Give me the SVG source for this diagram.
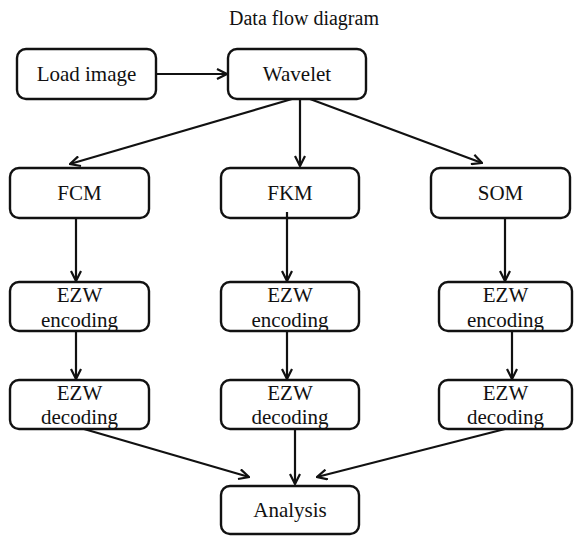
<svg xmlns="http://www.w3.org/2000/svg" width="575" height="536" viewBox="0 0 575 536" font-family="'Liberation Serif', 'Times New Roman', serif">
  <style>
    text { font-family: "Liberation Serif", "Times New Roman", serif; fill: #111111; text-anchor: middle; }
    .box { fill: #ffffff; stroke: #111111; stroke-width: 2.4; }
    .lbl { font-size: 21px; }
    .title { font-size: 20px; }
    .edge { fill: none; stroke: #111111; stroke-width: 2.2; marker-end: url(#arrow); }
  </style>
  <defs>
    <marker id="arrow" viewBox="0 0 12 12" refX="11" refY="6" markerWidth="12" markerHeight="12" markerUnits="userSpaceOnUse" orient="auto">
      <path d="M1,1 L11,6 L1,11" fill="none" stroke="#111111" stroke-width="2.2" stroke-linejoin="miter"/>
    </marker>
  </defs>

  <rect width="575" height="536" fill="#ffffff"/>

  <text class="title" x="304" y="25">Data flow diagram</text>

  <g id="load-image">
    <rect class="box" x="17" y="49" width="139" height="50" rx="9"/>
    <text class="lbl" x="86.5" y="81">Load image</text>
  </g>
  <g id="wavelet">
    <rect class="box" x="228" y="49" width="138" height="50" rx="9"/>
    <text class="lbl" x="297" y="81">Wavelet</text>
  </g>

  <g id="fcm">
    <rect class="box" x="10" y="168" width="139" height="50" rx="9"/>
    <text class="lbl" x="79.5" y="200">FCM</text>
  </g>
  <g id="fkm">
    <rect class="box" x="221" y="168" width="138" height="50" rx="9"/>
    <text class="lbl" x="290" y="200">FKM</text>
  </g>
  <g id="som">
    <rect class="box" x="431" y="168" width="139" height="50" rx="9"/>
    <text class="lbl" x="500.5" y="200">SOM</text>
  </g>

  <g id="fcm-encoding">
    <rect class="box" x="10" y="282" width="139" height="49" rx="9"/>
    <text class="lbl" x="79.5" y="302">EZW</text>
    <text class="lbl" x="79.5" y="327">encoding</text>
  </g>
  <g id="fkm-encoding">
    <rect class="box" x="221" y="282" width="138" height="49" rx="9"/>
    <text class="lbl" x="290" y="302">EZW</text>
    <text class="lbl" x="290" y="327">encoding</text>
  </g>
  <g id="som-encoding">
    <rect class="box" x="439" y="282" width="133" height="49" rx="9"/>
    <text class="lbl" x="505.5" y="302">EZW</text>
    <text class="lbl" x="505.5" y="327">encoding</text>
  </g>

  <g id="fcm-decoding">
    <rect class="box" x="10" y="380" width="139" height="49" rx="9"/>
    <text class="lbl" x="79.5" y="400">EZW</text>
    <text class="lbl" x="79.5" y="424">decoding</text>
  </g>
  <g id="fkm-decoding">
    <rect class="box" x="221" y="380" width="138" height="49" rx="9"/>
    <text class="lbl" x="290" y="400">EZW</text>
    <text class="lbl" x="290" y="424">decoding</text>
  </g>
  <g id="som-decoding">
    <rect class="box" x="439" y="380" width="133" height="49" rx="9"/>
    <text class="lbl" x="505.5" y="400">EZW</text>
    <text class="lbl" x="505.5" y="424">decoding</text>
  </g>

  <g id="analysis">
    <rect class="box" x="221" y="486" width="138" height="48" rx="9"/>
    <text class="lbl" x="290" y="517">Analysis</text>
  </g>

  <!-- connectors, drawn over the boxes -->
  <g id="connectors">
    <line class="edge" x1="156" y1="74" x2="227" y2="74"/>
    <line class="edge" x1="292" y1="99" x2="70" y2="164"/>
    <line class="edge" x1="300" y1="99" x2="300" y2="166"/>
    <line class="edge" x1="310" y1="99" x2="482" y2="163"/>
    <line class="edge" x1="76" y1="218" x2="76" y2="281"/>
    <line class="edge" x1="287" y1="212" x2="287" y2="281"/>
    <line class="edge" x1="505" y1="218" x2="505" y2="281"/>
    <line class="edge" x1="76" y1="331" x2="76" y2="379"/>
    <line class="edge" x1="287" y1="331" x2="287" y2="379"/>
    <line class="edge" x1="512" y1="331" x2="512" y2="379"/>
    <line class="edge" x1="84" y1="429" x2="249" y2="477"/>
    <line class="edge" x1="295" y1="429" x2="295" y2="484"/>
    <line class="edge" x1="505" y1="429" x2="317" y2="477"/>
  </g>
</svg>
